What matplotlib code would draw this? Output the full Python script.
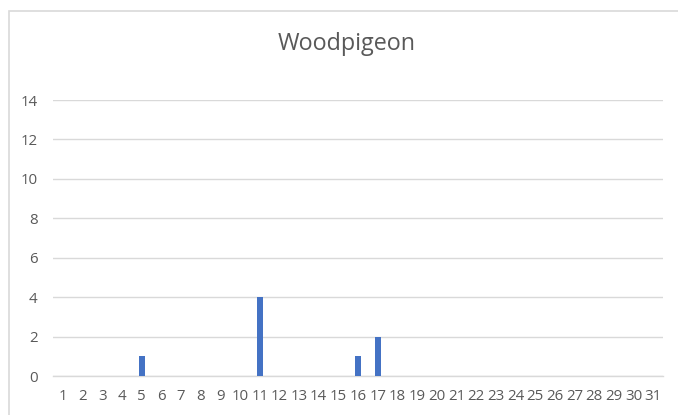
import matplotlib
matplotlib.use("Agg")
import matplotlib.pyplot as plt
from matplotlib.patches import Rectangle

days = list(range(1, 32))
counts = [0, 0, 0, 0, 1, 0, 0, 0, 0, 0, 4, 0, 0, 0, 0, 1, 2, 0, 0, 0,
          0, 0, 0, 0, 0, 0, 0, 0, 0, 0, 0]
y_ticks = [0, 2, 4, 6, 8, 10, 12, 14]
title = "Woodpigeon"

W, H = 678, 415
fig = plt.figure(figsize=(W / 100, H / 100), dpi=100)
fig.patch.set_facecolor("white")

# chart border
fig.patches.append(Rectangle((8.5 / W, -0.1), 1.0, 1.1 - 11.5 / H,
                             transform=fig.transFigure, fill=False,
                             edgecolor="#d9d9d9", linewidth=1.2))

ax = fig.add_axes([53 / W, 1 - 376 / H, 610 / W, 276 / H])
ax.bar(days, counts, width=0.3, color="#4472C4", zorder=3)
ax.set_xlim(0.5, 31.5)
ax.set_ylim(0, 14)
ax.set_yticks(y_ticks)
ax.set_xticks(days)
ax.set_xticklabels([str(d) for d in days])
ax.grid(axis="y", color="#d9d9d9", linewidth=1.0, zorder=0)
for s in ["top", "right", "left"]:
    ax.spines[s].set_visible(False)
ax.spines["bottom"].set_color("#d9d9d9")
ax.spines["bottom"].set_linewidth(1.0)
ax.tick_params(axis="both", length=0, labelsize=10.8, labelcolor="#595959")
ax.tick_params(axis="y", pad=11)
ax.tick_params(axis="x", pad=9)
for lbl in ax.get_xticklabels() + ax.get_yticklabels():
    lbl.set_fontfamily("Open Sans")

fig.text(347 / W, 1 - 44 / H, title, ha="center", va="center",
         fontsize=16.8, color="#595959", fontfamily="Open Sans")

fig.savefig("out.png", dpi=100)
